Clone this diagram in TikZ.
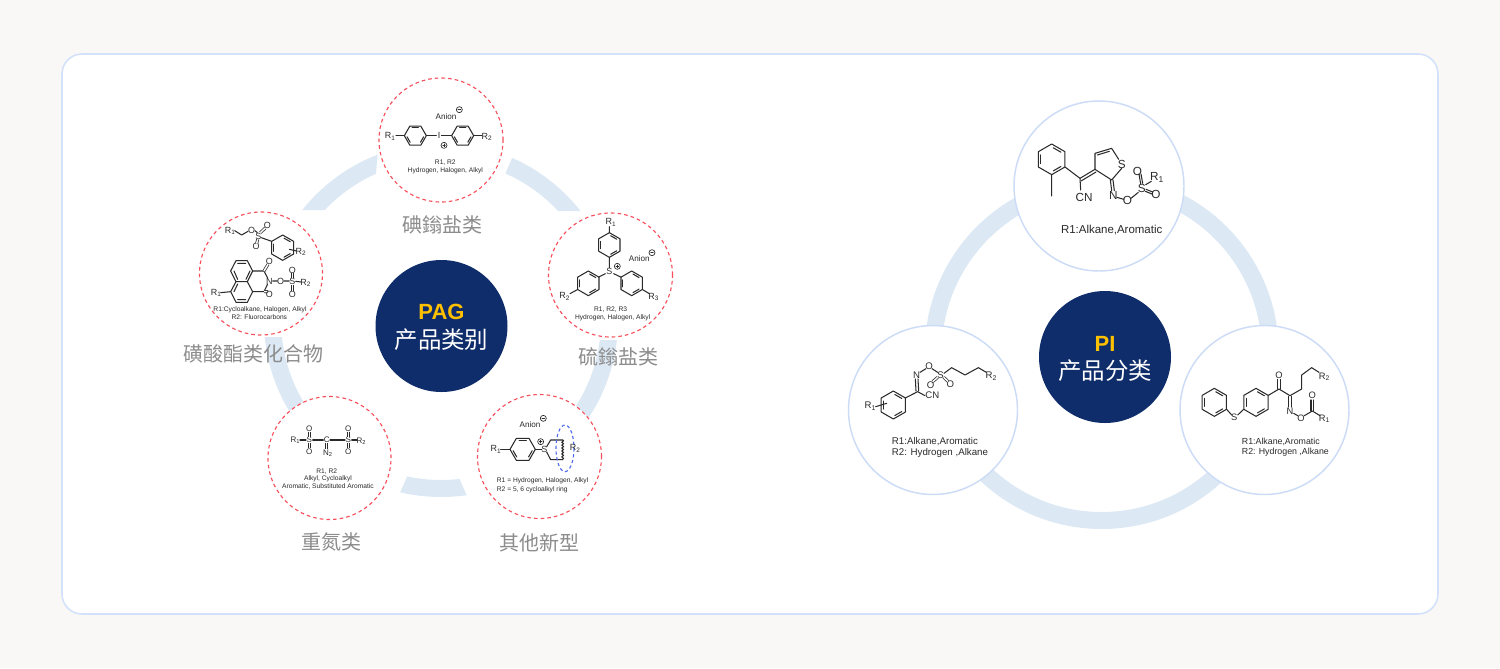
\documentclass[tikz,border=0pt]{standalone}
\usepackage{fontspec}
\usetikzlibrary{decorations.pathmorphing}
\setmainfont{Liberation Sans}
\newfontfamily\cjk{Noto Sans CJK SC}
\definecolor{pagebg}{HTML}{F9F8F6}
\definecolor{cardline}{HTML}{D3E2FA}
\definecolor{ringc}{HTML}{DCE9F5}
\definecolor{navy}{HTML}{0F2D6B}
\definecolor{gold}{HTML}{FFC000}
\definecolor{dashred}{HTML}{F7505C}
\definecolor{dashblue}{HTML}{4F6AF0}
\definecolor{circline}{HTML}{CCDCF7}
\definecolor{labelgrey}{HTML}{8C8C8C}
\definecolor{ink}{HTML}{2A2A2A}
\newcounter{atomc}
\newcommand\sbn[1]{\raisebox{-.3ex}{\scalebox{.72}{#1}}}
\newcommand\fsz[1]{\fontsize{#1}{#1}\selectfont}
\tikzset{
  bond/.style={draw=ink,line width=.78pt,line cap=round,line join=round},
  dblb/.style={draw=ink,line width=.55pt,double=white,double distance=1.1pt},
  atom/.style={inner sep=0pt,text=ink,font=\fsz{\atomsize}},
  note/.style={inner sep=0pt,text=ink,align=center,font=\fsz{\notesize}},
  dashcirc/.style={draw=dashred,fill=white,line width=.85pt,dash pattern=on 2.7pt off 2.3pt},
  solidcirc/.style={draw=circline,fill=white,line width=1.1pt},
  navycirc/.style={fill=navy,draw=none},
  catlabel/.style={inner sep=0pt,text=labelgrey,font=\cjk\fsz{15}},
  titlelat/.style={inner sep=0pt,text=gold,font=\bfseries\fsz{16.5}},
  titlecjk/.style={inner sep=0pt,text=white,font=\cjk\fsz{17.6}},
}
\newcommand\atomsize{6.7}
\newcommand\notesize{5}
\newcommand\atm[3]{\stepcounter{atomc}\node[atom] (atom\arabic{atomc}) at (#1,#2) {#3};}
\newcommand\anion[2]{\stepcounter{atomc}\node[atom,font=\fsz{6.1}] (atom\arabic{atomc}) at (#1,#2) {Anion};}
\newcommand\nte[3]{\stepcounter{atomc}\node[note] (atom\arabic{atomc}) at (#1,#2) {#3};}
\newcommand\nteL[3]{\stepcounter{atomc}\node[note,anchor=west] (atom\arabic{atomc}) at (#1,#2) {#3};}
\newcommand\benz[5]{%
  \begin{scope}[shift={(#1,#2)}]
    \draw[bond] (#4:#3) -- (#4+60:#3) -- (#4+120:#3) -- (#4+180:#3) -- (#4+240:#3) -- (#4+300:#3) -- cycle;
    \foreach \k in {0,120,240}{\draw[bond] (#4+#5+\k+8:.76*#3) -- (#4+#5+\k+52:.76*#3);}
  \end{scope}}
\newcommand\chm[2]{\draw[bond,line width=.5pt] (#1,#2) circle (9); \draw[bond,line width=.5pt] (#1-4,#2) -- (#1+4,#2);}
\newcommand\chp[2]{\draw[bond,line width=.5pt] (#1,#2) circle (9); \draw[bond,line width=.5pt] (#1-4,#2) -- (#1+4,#2) (#1,#2-4) -- (#1,#2+4);}
\begin{document}
\begin{tikzpicture}[x=.75pt,y=-.75pt]
\useasboundingbox (0,0) rectangle (1500,668);
\fill[pagebg] (0,0) rectangle (1500,668);
\draw[cardline,fill=white,line width=1.2pt,rounded corners=15pt] (62,54) rectangle (1438,614);

% ---- left ring segments
\newcommand\annL{\fill[ringc,even odd rule] (441,320) circle (177) (441,320) circle (160);}
\begin{scope}\clip (516.5,148) -- (503,179) -- (540,211) -- (640,211) -- (640,120) -- (516.5,120) -- cycle; \annL\end{scope}
\begin{scope}\clip (560,340) -- (660,340) -- (660,436) -- (591,436) -- (560,396) -- cycle; \annL\end{scope}
\begin{scope}\clip (395.5,503) -- (410,470) -- (456.5,472) -- (470,503) -- cycle; \annL\end{scope}
\begin{scope}\clip (250,337) -- (300,337) -- (314,397.5) -- (285,431) -- (250,431) -- cycle; \annL\end{scope}
\begin{scope}\clip (378,150) -- (375,185) -- (330,210) -- (290,210) -- (290,150) -- cycle; \annL\end{scope}

% ---- left dashed circles
\node[dashcirc,circle,minimum size=124*.75pt,inner sep=0] (ctop) at (441,140) {};
\node[dashcirc,circle,minimum size=124*.75pt,inner sep=0] (cright) at (610.5,275) {};
\node[dashcirc,circle,minimum size=123*.75pt,inner sep=0] (cleft) at (261,273.5) {};
\node[dashcirc,circle,minimum size=123*.75pt,inner sep=0] (cbl) at (329.5,458) {};
\node[dashcirc,circle,minimum size=124*.75pt,inner sep=0] (cbr) at (539.5,456.5) {};

% labels
\node[catlabel] (l1) at (442.5,225) {碘鎓盐类};
\node[catlabel] (l2) at (253.5,354) {磺酸酯类化合物};
\node[catlabel] (l3) at (618,357) {硫鎓盐类};
\node[catlabel] (l4) at (331,541.5) {重氮类};
\node[catlabel] (l5) at (539,543) {其他新型};

\node[navycirc,circle,minimum size=132*.75pt,inner sep=0] (pag) at (441.5,326) {};
\node[titlelat] (pagt) at (441.5,312) {PAG};
\node[titlecjk] (pagc) at (441.5,340) {产品类别};

% ---- molecule: top (iodonium), right (sulfonium)
\begin{scope}[shift={(370,75)},scale=1/3]
  \benz{136}{182}{33}{0}{0}
  \benz{278}{182}{33}{0}{0}
  \draw[bond] (78,182) -- (103,182) (169,182) -- (199,182) (214,182) -- (245,182) (311,182) -- (335,182);
  \atm{60}{184}{R\sbn{1}}
  \atm{207}{182}{I}
  \atm{350}{186}{R\sbn{2}}
  \anion{228}{124}
  \chm{268}{104}
  \chp{222}{211}
  \nte{226}{262}{R1, R2}
  \nte{226}{286}{Hydrogen, Halogen, Alkyl}
  % sulfonium
  \benz{718}{510}{37}{30}{0}
  \benz{655}{625}{37}{30}{0}
  \benz{785}{625}{37}{30}{0}
  \draw[bond] (718,455) -- (718,473) (718,547) -- (718,578) (686,606) -- (706,596) (752,606) -- (731,596) (622,644) -- (600,656) (818,644) -- (838,656);
  \atm{722}{442}{R\sbn{1}}
  \atm{718}{590}{S}
  \atm{583}{664}{R\sbn{2}}
  \atm{850}{666}{R\sbn{3}}
  \anion{808}{552}
  \chm{846}{533}
  \chp{742}{574}
  \nte{722}{704}{R1, R2, R3}
  \nte{728}{729}{Hydrogen, Halogen, Alkyl}
\end{scope}

% ---- molecule: left (sulfonate esters)
\begin{scope}[shift={(190,200)},scale=1/3]
  \atm{120}{92}{R\sbn{1}}
  \draw[bond] (134,92) -- (155,105) -- (174,94) (195,92) -- (202,98);
  \atm{185}{90}{O}
  \atm{205}{108}{S}
  \atm{232}{76}{O}
  \atm{198}{140}{O}
  \draw[dblb] (211,98) -- (226,84) (203,118) -- (200,131);
  \benz{278}{143}{38}{30}{0}
  \draw[bond] (214,113) -- (245,124) (298,148) -- (320,153);
  \atm{332}{156}{R\sbn{2}}
  \draw[bond] (138,182) -- (172,182) -- (188,213) -- (172,245) -- (138,245) -- (122,213) -- cycle;
  \draw[bond] (143,190) -- (167,190) (132,213) -- (143,238) (180,213) -- (168,238);
  \draw[bond] (138,245) -- (122,275) -- (138,307) -- (172,307) -- (188,275) -- (172,245);
  \draw[bond] (143,299) -- (167,299) (132,275) -- (143,252);
  \draw[bond] (188,213) -- (222,213) -- (233,234) (188,275) -- (222,275) -- (233,252);
  \draw[dblb] (222,213) -- (234,193) (222,275) -- (234,275);
  \draw[bond] (92,278) -- (122,275);
  \atm{78}{279}{R\sbn{1}}
  \atm{238}{183}{O}
  \atm{238}{244}{N}
  \atm{238}{283}{O}
  \draw[bond] (248,243) -- (262,243) (282,243) -- (298,243) (317,244) -- (333,246);
  \atm{272}{243}{O}
  \atm{307}{245}{S}
  \atm{307}{210}{O}
  \atm{307}{283}{O}
  \atm{346}{248}{R\sbn{2}}
  \draw[dblb] (307,219) -- (307,235) (307,255) -- (307,273);
  \nte{210}{330}{R1:Cycloalkane, Halogen, Alkyl}
  \nte{208}{352}{R2: Fluorocarbons}
\end{scope}

% ---- molecule: bottom left (diazo), bottom right (other)
\begin{scope}[shift={(260,390)},scale=1/3]
  \renewcommand\atomsize{6}
  \atm{105}{150}{R\sbn{1}}
  \draw[bond] (120,150) -- (138,150) (158,150) -- (190,150) (210,150) -- (255,150) (275,150) -- (292,150);
  \atm{148}{150}{S}
  \atm{148}{115}{O}
  \atm{148}{185}{O}
  \atm{200}{150}{C}
  \atm{265}{150}{S}
  \atm{265}{115}{O}
  \atm{265}{185}{O}
  \atm{203}{190}{N\sbn{2}}
  \atm{303}{154}{R\sbn{2}}
  \draw[dblb] (148,125) -- (148,140) (148,160) -- (148,175) (265,125) -- (265,140) (265,160) -- (265,175) (200,160) -- (200,178);
  \nte{200}{244}{R1, R2}
  \nte{204}{267}{Alkyl, Cycloalkyl}
  \nte{204}{290}{Aromatic, Substituted Aromatic}
  % other
  \renewcommand\atomsize{6.7}
  \anion{810}{105}
  \chm{850}{85}
  \atm{707}{178}{R\sbn{1}}
  \benz{788}{178}{38}{0}{0}
  \draw[bond] (722,178) -- (750,178) (826,178) -- (845,178);
  \atm{853}{178}{S}
  \chp{842}{155}
  \draw[bond] (860,170) -- (872,150) -- (908,150) (860,186) -- (872,209) -- (908,209);
  \draw[bond,decorate,decoration={zigzag,amplitude=.7pt,segment length=2.2pt}] (908,150) -- (908,209);
  \draw[draw=dashblue,line width=.85pt,dash pattern=on 2.4pt off 2pt] (915,175) ellipse (27 and 70);
  \atm{945}{175}{R\sbn{2}}
  \nteL{710}{273}{R1 = Hydrogen, Halogen, Alkyl}
  \nteL{710}{298}{R2 = 5, 6 cycloalkyl ring}
\end{scope}

% ---- right ring
\fill[ringc,even odd rule] (1101.7,352) circle (177) (1101.7,352) circle (160);
\node[solidcirc,circle,minimum size=170*.75pt,inner sep=0] (ptop) at (1099,186) {};
\node[solidcirc,circle,minimum size=169*.75pt,inner sep=0] (pleft) at (933,410) {};
\node[solidcirc,circle,minimum size=169*.75pt,inner sep=0] (pright) at (1264.5,410) {};
\node[navycirc,circle,minimum size=132*.75pt,inner sep=0] (pi) at (1105,357) {};
\node[titlelat] (pit) at (1105,344) {PI};
\node[titlecjk] (pic) at (1105,371) {产品分类};

% molecule top
\begin{scope}[shift={(1010,100)},scale=1/3]
  \renewcommand\atomsize{8.8}
  \benz{125}{178}{46}{30}{0}
  \draw[bond] (125,224) -- (125,288) (165,201) -- (210,235) -- (212,270);
  \draw[bond] (255,208) -- (255,160) -- (305,145) -- (326,178) (335,205) -- (305,240) -- (255,208);
  \draw[bond] (262,165) -- (298,154);
  \draw[bond] (210,235) -- (255,208) (213,243) -- (258,216);
  \atm{222}{292}{CN}
  \atm{335}{192}{S}
  \draw[bond] (301,240) -- (305,272) (309,240) -- (313,272);
  \atm{310}{285}{N}
  \atm{352}{300}{O}
  \draw[bond] (321,292) -- (341,298) (363,295) -- (385,277) (407,254) -- (424,244);
  \atm{395}{265}{S}
  \atm{382}{213}{O}
  \atm{438}{283}{O}
  \atm{440}{232}{R\sbn{1}}
  \draw[bond] (387,222) -- (392,252) (393,222) -- (398,250) (408,268) -- (428,276) (406,274) -- (426,282);
  \renewcommand\notesize{8.6}
  \nte{305}{390}{R1:Alkane,Aromatic}
\end{scope}

% molecule left
\begin{scope}[shift={(845,325)},scale=1/3]
  \renewcommand\atomsize{7.2}
  \benz{145}{240}{42}{30}{0}
  \atm{75}{243}{R\sbn{1}}
  \draw[bond] (92,245) -- (125,235) (181,219) -- (218,200) (218,200) -- (240,212);
  \atm{262}{212}{CN}
  \draw[bond] (213,198) -- (211,162) (221,198) -- (219,162);
  \atm{215}{150}{N}
  \draw[bond] (225,142) -- (243,131) (261,131) -- (278,142);
  \atm{252}{125}{O}
  \atm{287}{150}{S}
  \atm{257}{180}{O}
  \atm{316}{178}{O}
  \draw[dblb] (278,157) -- (263,170) (296,157) -- (309,169);
  \draw[bond] (297,145) -- (320,128) -- (360,150) -- (400,128) -- (424,142);
  \atm{438}{153}{R\sbn{2}}
  \renewcommand\notesize{7.3}
  \nteL{140}{350}{R1:Alkane,Aromatic}
  \nteL{140}{385}{R2: Hydrogen ,Alkane}
\end{scope}

% molecule right
\begin{scope}[shift={(1175,325)},scale=1/3]
  \renewcommand\atomsize{7}
  \benz{118}{232}{42}{30}{0}
  \benz{243}{232}{42}{30}{0}
  \draw[bond] (155,253) -- (170,270) (188,270) -- (206,253) (280,211) -- (312,192) -- (345,212) -- (380,192) -- (380,150) -- (410,128) -- (432,142);
  \draw[bond] (308,192) -- (308,163) (316,192) -- (316,163);
  \atm{178}{278}{S}
  \atm{312}{150}{O}
  \atm{447}{155}{R\sbn{2}}
  \draw[bond] (341,214) -- (341,246) (349,214) -- (349,246);
  \atm{345}{258}{N}
  \atm{378}{280}{O}
  \draw[bond] (356,265) -- (368,272) (388,272) -- (412,258) -- (435,272);
  \draw[bond] (408,258) -- (408,225) (416,258) -- (416,225);
  \atm{412}{212}{O}
  \atm{447}{282}{R\sbn{1}}
  \renewcommand\notesize{6.6}
  \nteL{200}{350}{R1:Alkane,Aromatic}
  \nteL{200}{383}{R2: Hydrogen ,Alkane}
\end{scope}
\end{tikzpicture}
\end{document}
